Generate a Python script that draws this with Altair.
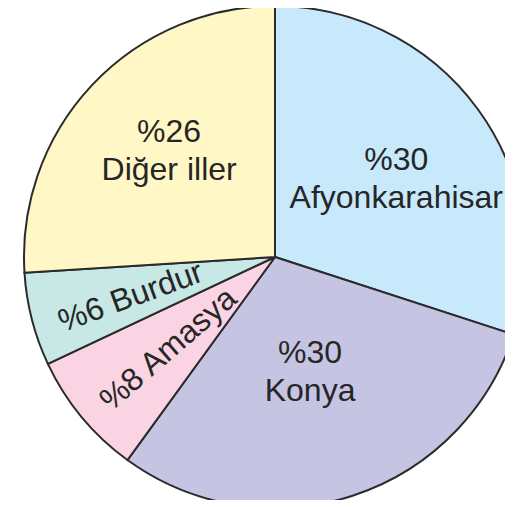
import altair as alt
import pandas as pd

regions = ["Afyonkarahisar", "Konya", "Amasya", "Burdur", "Diğer iller"]
shares = [30, 30, 8, 6, 26]
labels = ["%30\nAfyonkarahisar", "%30\nKonya", "%8 Amasya", "%6 Burdur", "%26\nDiğer iller"]
colors = ["#c8e9fb", "#c6c4e3", "#fad4e3", "#c7e8e4", "#fff8c6"]

df = pd.DataFrame({
    "region": regions,
    "share": shares,
    "label": labels,
    "order": list(range(len(regions))),
})

CX, CY, R = 267, 249, 251

theta_scale = alt.Scale(domain=[0, 100])

base = alt.Chart(df).transform_window(
    end="sum(share)", sort=[alt.SortField("order")], frame=[None, 0]
).transform_calculate(
    start="datum.end - datum.share",
    mid="datum.end - datum.share / 2",
).encode(
    x=alt.value(CX),
    y=alt.value(CY),
)

pie = base.mark_arc(outerRadius=R, stroke="#2b2b2b", strokeWidth=2).encode(
    theta=alt.Theta("start:Q", scale=theta_scale, stack=None),
    theta2="end:Q",
    color=alt.Color("region:N", scale=alt.Scale(domain=regions, range=colors), legend=None),
)

text_style = dict(font="Liberation Sans", fontSize=32, color="#262626", lineHeight=38,
                  align="center", baseline="middle", lineBreak="\n")

layers = [pie]
label_specs = {
    "Afyonkarahisar": dict(radius=145, dy=-12, dx=4),
    "Konya": dict(radius=120, dy=-18, dx=-2),
    "Amasya": dict(radius=141, angle=319, dy=3),
    "Burdur": dict(radius=152, angle=340, dy=3, dx=2),
    "Diğer iller": dict(radius=148, dy=-24, dx=2),
}
for name, spec in label_specs.items():
    layers.append(
        base.transform_filter(alt.datum.region == name)
        .mark_text(**text_style, **spec)
        .encode(
            theta=alt.Theta("mid:Q", scale=theta_scale, stack=None),
            text="label:N",
        )
    )

chart = alt.layer(*layers).properties(
    width=497, height=492,
    autosize=alt.AutoSizeParams(type="none"),
    padding=0,
).configure_view(strokeWidth=0)

chart.save("out.html", embed_options={"renderer": "svg", "actions": False})
